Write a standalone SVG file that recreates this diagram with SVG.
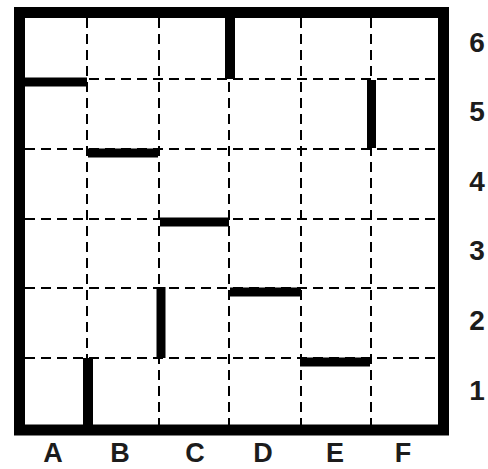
<svg xmlns="http://www.w3.org/2000/svg" width="488" height="469" viewBox="0 0 488 469">
<style>
.grid{stroke:#000;stroke-width:2;stroke-dasharray:10 6;fill:none}
.wall{stroke:#000;stroke-width:9;fill:none}
.lbl{font-family:"Liberation Sans",Arial,sans-serif;font-weight:bold;font-size:28px;fill:#1c1c1c;text-anchor:middle}
.col{font-size:27px}
</style>
<rect width="488" height="469" fill="#fff"/>
<g id="grid">
<path class="grid" d="M87 18V425M159 18V425M229 18V425M301 18V425M371 18V425"/>
<path class="grid" d="M25 79H438M25 149H438M25 219H438M25 288H438M25 358H438"/>
</g>
<g id="border"><rect x="19.5" y="12.5" width="424" height="417.5" fill="none" stroke="#000" stroke-width="11"/></g>
<g id="walls">
<path class="wall" d="M230 18V79" style="stroke-width:10"/>
<path class="wall" d="M25 82H87"/>
<path class="wall" d="M371.5 80V148"/>
<path class="wall" d="M88 153H158"/>
<path class="wall" d="M160 222H229"/>
<path class="wall" d="M230 292H301"/>
<path class="wall" d="M161 287V358"/>
<path class="wall" d="M300 362H370"/>
<path class="wall" d="M88 358V425" style="stroke-width:10"/>
</g>
<g id="rows">
<text class="lbl" x="477" y="52">6</text>
<text class="lbl" x="477" y="121">5</text>
<text class="lbl" x="477" y="191">4</text>
<text class="lbl" x="477" y="260">3</text>
<text class="lbl" x="477" y="330">2</text>
<text class="lbl" x="477" y="400">1</text>
</g>
<g id="cols">
<text class="lbl col" x="53" y="462">A</text>
<text class="lbl col" x="120" y="462">B</text>
<text class="lbl col" x="195" y="462">C</text>
<text class="lbl col" x="263" y="462">D</text>
<text class="lbl col" x="335" y="462">E</text>
<text class="lbl col" x="403" y="462">F</text>
</g>
</svg>
